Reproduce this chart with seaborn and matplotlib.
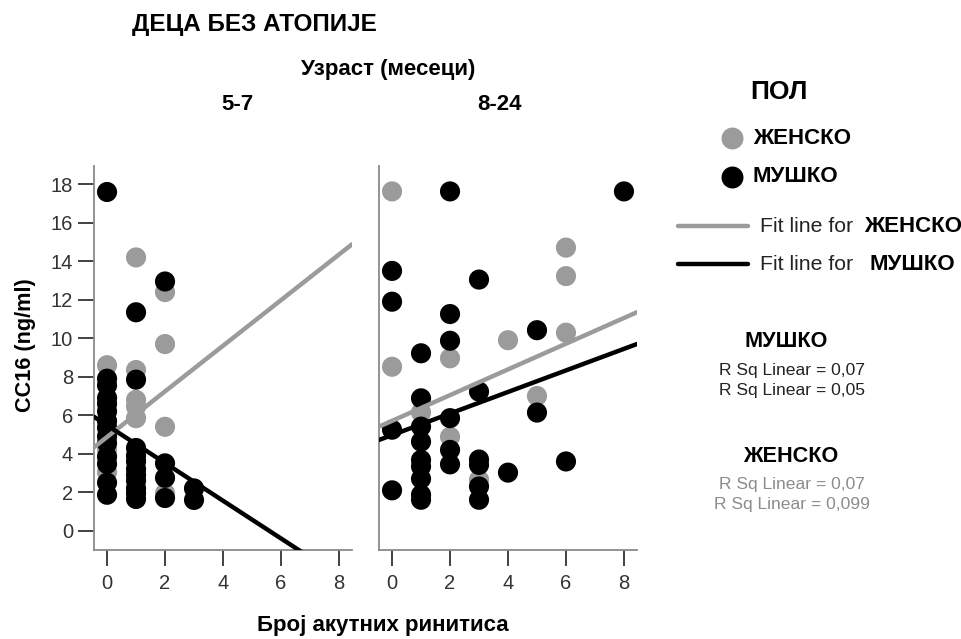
import matplotlib
matplotlib.use("Agg")
import matplotlib.pyplot as plt
from matplotlib.lines import Line2D
import seaborn as sns
import pandas as pd
import numpy as np

sns.set_theme(style="white")
plt.rcParams["font.family"] = ["Liberation Sans", "DejaVu Sans"]

# ---- data -------------------------------------------------------------
age_groups = ["5-7", "8-24"]
sex_labels = ["ЖЕНСКО", "МУШКО"]
sex_colors = ["#9b9b9b", "#000000"]

# 5-7 months
young_f_x = [0, 0, 0, 1, 1, 1, 1, 1, 2, 2, 2, 2]
young_f_y = [8.6, 4.2, 3.05, 14.2, 8.35, 6.8, 6.45, 5.85, 12.4, 9.7, 5.4, 1.95]
young_m_x = [0] * 14 + [1] * 11 + [2] * 4 + [3] * 2
young_m_y = [17.6, 7.9, 7.55, 6.9, 6.6, 6.2, 5.7, 5.35, 4.9, 4.55, 3.85, 3.47, 2.5, 1.87,
             11.35, 7.85, 4.3, 3.9, 3.6, 3.2, 2.9, 2.6, 2.2, 1.95, 1.65,
             12.95, 3.5, 2.75, 1.7,
             2.2, 1.6]

# 8-24 months
older_f_x = [0, 0, 1, 2, 2, 3, 4, 5, 6, 6, 6]
older_f_y = [17.63, 8.52, 6.15, 8.96, 4.88, 2.65, 9.9, 7.0, 14.71, 13.23, 10.29]
older_m_x = [0] * 4 + [1] * 9 + [2] * 6 + [3] * 6 + [4] + [5] * 2 + [6] + [8]
older_m_y = [13.5, 11.9, 5.25, 2.1,
             9.22, 6.88, 5.41, 4.63, 3.68, 3.34, 2.7, 1.87, 1.61,
             17.63, 11.26, 9.87, 5.85, 4.2, 3.45,
             13.05, 7.23, 3.7, 3.42, 2.3, 1.61,
             3.02,
             10.42, 6.14,
             3.6,
             17.63]

# linear fit parameters per age group (female, male)
fit_intercept_f = [4.87, 5.71]
fit_slope_f = [1.185, 0.668]
fit_intercept_m = [5.48, 4.97]
fit_slope_m = [-0.98, 0.56]

r2_male = ["0,07", "0,05"]
r2_female = ["0,07", "0,099"]

# ---- tidy table -------------------------------------------------------
frames = []
for grp, fx, fy, mx, my in [("5-7", young_f_x, young_f_y, young_m_x, young_m_y),
                            ("8-24", older_f_x, older_f_y, older_m_x, older_m_y)]:
    frames.append(pd.DataFrame({"age": grp, "sex": sex_labels[0], "rhinitis": fx, "cc16": fy}))
    frames.append(pd.DataFrame({"age": grp, "sex": sex_labels[1], "rhinitis": mx, "cc16": my}))
df = pd.concat(frames, ignore_index=True)

# ---- figure -----------------------------------------------------------
W, H = 962, 639
fig = plt.figure(figsize=(W / 100, H / 100), dpi=100)


def fx_(px):
    return px / W


def fy_(py):
    return 1 - py / H


XLIM = (-0.45, 8.45)
YLIM = (-1.0, 18.95)
palette = dict(zip(sex_labels, sex_colors))

ax_left = [94, 379]
ax_w = 258
ax_top, ax_bot = 166, 550

axes = []
for i, grp in enumerate(age_groups):
    ax = fig.add_axes([fx_(ax_left[i]), fy_(ax_bot), ax_w / W, (ax_bot - ax_top) / H])
    axes.append(ax)
    sub = df[df["age"] == grp]
    sns.scatterplot(data=sub, x="rhinitis", y="cc16", hue="sex", hue_order=sex_labels,
                    palette=palette, s=210, linewidth=0, alpha=1, legend=False, ax=ax,
                    zorder=2)
    xs = np.array(XLIM)
    for inter, slope, col in [(fit_intercept_f[i], fit_slope_f[i], sex_colors[0]),
                              (fit_intercept_m[i], fit_slope_m[i], sex_colors[1])]:
        sns.lineplot(x=xs, y=inter + slope * xs, color=col, linewidth=3.2, ax=ax, zorder=3)
    ax.set_xlim(*XLIM)
    ax.set_ylim(*YLIM)
    ax.set_xticks([0, 2, 4, 6, 8])
    ax.set_yticks(range(0, 19, 2))
    ax.set_xlabel("")
    ax.set_ylabel("")
    for s in ["top", "right"]:
        ax.spines[s].set_visible(False)
    for s in ["left", "bottom"]:
        ax.spines[s].set_color("#8a8a8a")
        ax.spines[s].set_linewidth(1.3)
    ax.tick_params(axis="x", direction="out", length=11.5, width=1.3, color="#333333",
                   labelsize=14.5, labelcolor="#333333", pad=6, bottom=True)
    if i == 0:
        ax.tick_params(axis="y", direction="out", length=11.5, width=1.3, color="#333333",
                       labelsize=14.5, labelcolor="#333333", pad=3.5, left=True)
    else:
        ax.tick_params(axis="y", left=False, labelleft=False)
    ax.set_facecolor("white")

# ---- titles and axis labels -------------------------------------------
fig.text(fx_(254), fy_(25), "ДЕЦА БЕЗ АТОПИЈЕ", ha="center", va="center",
         fontsize=17.5, fontweight="bold", color="black")
fig.text(fx_(388), fy_(70), "Узраст (месеци)", ha="center", va="center",
         fontsize=16, fontweight="bold", color="black")
fig.text(fx_(237), fy_(104), age_groups[0], ha="center", va="center",
         fontsize=16, fontweight="bold", color="black")
fig.text(fx_(500), fy_(104), age_groups[1], ha="center", va="center",
         fontsize=16, fontweight="bold", color="black")
fig.text(fx_(25), fy_(345), "CC16 (ng/ml)", ha="center", va="center", rotation=90,
         fontsize=15.6, fontweight="bold", color="black")
fig.text(fx_(383), fy_(626), "Број акутних ринитиса", ha="center", va="center",
         fontsize=16, fontweight="bold", color="black")

# ---- legend -----------------------------------------------------------
fig.text(fx_(779), fy_(92), "ПОЛ", ha="center", va="center",
         fontsize=19, fontweight="bold", color="black")
for yy, lab, col in [(138, sex_labels[0], sex_colors[0]), (177, sex_labels[1], sex_colors[1])]:
    fig.add_artist(Line2D([fx_(732)], [fy_(yy)], marker="o", markersize=15.8,
                          markerfacecolor=col, markeredgewidth=0, linestyle="none",
                          transform=fig.transFigure))
    fig.text(fx_(753), fy_(yy), lab, ha="left", va="center",
             fontsize=16, fontweight="bold", color="black")
for yy, lab, col, lx in [(226, sex_labels[0], sex_colors[0], 864),
                         (264, sex_labels[1], sex_colors[1], 870)]:
    fig.add_artist(Line2D([fx_(678), fx_(748)], [fy_(yy), fy_(yy)], color=col,
                          linewidth=3.2, transform=fig.transFigure))
    fig.text(fx_(760), fy_(yy), "Fit line for", ha="left", va="center",
             fontsize=15.3, color="#222222")
    fig.text(fx_(lx), fy_(yy), lab, ha="left", va="center",
             fontsize=16, fontweight="bold", color="black")

# ---- R squared notes --------------------------------------------------
fig.text(fx_(786), fy_(341.5), sex_labels[1], ha="center", va="center",
         fontsize=15.6, fontweight="bold", color="black")
for k, yy in enumerate([370, 390]):
    fig.text(fx_(792), fy_(yy), f"R Sq Linear = {r2_male[k]}", ha="center", va="center",
             fontsize=12.6, color="#222222")
fig.text(fx_(791), fy_(457), sex_labels[0], ha="center", va="center",
         fontsize=15.6, fontweight="bold", color="black")
for k, yy in enumerate([485, 505]):
    fig.text(fx_(792), fy_(yy), f"R Sq Linear = {r2_female[k]}", ha="center", va="center",
             fontsize=12.6, color="#8c8c8c")

fig.savefig("out.png", dpi=100, facecolor="white")
